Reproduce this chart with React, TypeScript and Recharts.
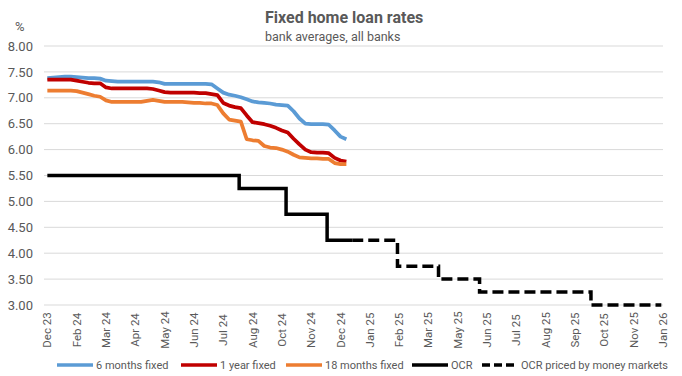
import React from 'react';
import { LineChart, Line, XAxis, YAxis, CartesianGrid, Legend, Customized } from 'recharts';

// Weekly observation dates for the bank average rates
const rateDates = [
  '2023-12-29', '2024-01-05', '2024-01-12', '2024-01-19', '2024-01-26', '2024-02-02', '2024-02-09', '2024-02-16',
  '2024-02-23', '2024-03-01', '2024-03-08', '2024-03-15', '2024-03-22', '2024-03-29', '2024-04-05', '2024-04-12',
  '2024-04-19', '2024-04-26', '2024-05-03', '2024-05-10', '2024-05-17', '2024-05-24', '2024-05-31', '2024-06-07',
  '2024-06-14', '2024-06-21', '2024-06-28', '2024-07-05', '2024-07-12', '2024-07-19', '2024-07-26', '2024-08-02',
  '2024-08-09', '2024-08-16', '2024-08-23', '2024-08-30', '2024-09-06', '2024-09-13', '2024-09-20', '2024-09-27',
  '2024-10-04', '2024-10-11', '2024-10-18', '2024-10-25', '2024-11-01', '2024-11-08', '2024-11-15', '2024-11-22',
  '2024-11-29', '2024-12-06', '2024-12-13', '2024-12-20',
];

const sixMonths = [
  7.38, 7.39, 7.40, 7.41, 7.41, 7.40, 7.39, 7.38, 7.38, 7.37, 7.33, 7.32, 7.31, 7.31, 7.31, 7.31,
  7.31, 7.31, 7.31, 7.30, 7.27, 7.27, 7.27, 7.27, 7.27, 7.27, 7.27, 7.27, 7.26, 7.18, 7.10, 7.06,
  7.04, 7.01, 6.97, 6.93, 6.91, 6.90, 6.89, 6.87, 6.86, 6.85, 6.74, 6.60, 6.50, 6.49, 6.49, 6.49,
  6.48, 6.37, 6.25, 6.20,
];

const oneYear = [
  7.35, 7.35, 7.35, 7.35, 7.35, 7.33, 7.31, 7.29, 7.28, 7.28, 7.20, 7.18, 7.18, 7.18, 7.18, 7.18,
  7.18, 7.18, 7.17, 7.14, 7.11, 7.10, 7.10, 7.10, 7.10, 7.10, 7.09, 7.09, 7.07, 7.05, 6.90, 6.85,
  6.82, 6.80, 6.66, 6.53, 6.51, 6.49, 6.46, 6.42, 6.37, 6.33, 6.21, 6.10, 6.00, 5.95, 5.94, 5.94,
  5.93, 5.84, 5.79, 5.77,
];

const eighteenMonths = [
  7.14, 7.14, 7.14, 7.14, 7.14, 7.13, 7.10, 7.07, 7.04, 7.02, 6.95, 6.92, 6.92, 6.92, 6.92, 6.92,
  6.92, 6.94, 6.96, 6.94, 6.92, 6.92, 6.92, 6.92, 6.91, 6.90, 6.90, 6.89, 6.89, 6.86, 6.70, 6.58,
  6.56, 6.54, 6.20, 6.18, 6.17, 6.07, 6.04, 6.03, 6.00, 5.96, 5.90, 5.85, 5.84, 5.83, 5.83, 5.82,
  5.82, 5.74, 5.72, 5.72,
];

// Official Cash Rate decisions
const ocrDates = ['2023-12-29', '2024-08-14', '2024-10-09', '2024-11-27', '2024-12-27'];
const ocrValues = [5.50, 5.25, 4.75, 4.25, 4.25];

// OCR path priced by money markets
const marketDates = ['2024-12-27', '2025-02-19', '2025-04-09', '2025-05-28', '2025-10-08', '2025-12-31'];
const marketValues = [4.25, 3.75, 3.50, 3.25, 3.00, 3.00];

// Axis ticks
const tickDates = [
  '2023-12-29', '2024-02-02', '2024-03-08', '2024-04-12', '2024-05-17', '2024-06-21', '2024-07-26', '2024-08-30',
  '2024-10-04', '2024-11-08', '2024-12-13', '2025-01-17', '2025-02-21', '2025-03-28', '2025-05-02', '2025-06-06',
  '2025-07-11', '2025-08-15', '2025-09-19', '2025-10-24', '2025-11-28', '2026-01-02',
];
const tickLabels = [
  'Dec 23', 'Feb 24', 'Mar 24', 'Apr 24', 'May 24', 'Jun 24', 'Jul 24', 'Aug 24', 'Oct 24', 'Nov 24', 'Dec 24',
  'Jan 25', 'Feb 25', 'Mar 25', 'May 25', 'Jun 25', 'Jul 25', 'Aug 25', 'Sep 25', 'Oct 25', 'Nov 25', 'Jan 26',
];
const yTicks = [3.0, 3.5, 4.0, 4.5, 5.0, 5.5, 6.0, 6.5, 7.0, 7.5, 8.0];

const DAY0 = Date.parse('2023-12-29');
const toDay = (d: string) => Math.round((Date.parse(d) - DAY0) / 86400000);

const mk = (dates: string[], vals: number[]) => dates.map((d, i) => ({ x: toDay(d), v: vals[i] }));

const s6 = mk(rateDates, sixMonths);
const s12 = mk(rateDates, oneYear);
const s18 = mk(rateDates, eighteenMonths);
const sOcr = mk(ocrDates, ocrValues);
const sMkt = mk(marketDates, marketValues);
const xTicks = tickDates.map(toDay);

const FONT = 'Roboto, "Noto Sans", sans-serif';
const TXT = '#595959';

const XTick = (props: any) => {
  const { x, payload } = props;
  const idx = xTicks.indexOf(payload.value);
  const label = idx >= 0 ? tickLabels[idx] : '';
  const cy = 330;
  return (
    <text
      x={x}
      y={cy}
      transform={`rotate(-90, ${x}, ${cy})`}
      textAnchor="middle"
      dominantBaseline="central"
      fill={TXT}
      fontSize={11.5}
      fontFamily={FONT}
    >
      {label}
    </text>
  );
};

const legendItems = [
  { name: '6 months fixed', color: '#5B9BD5', dash: '', x: 57 },
  { name: '1 year fixed', color: '#C00000', dash: '', x: 181 },
  { name: '18 months fixed', color: '#ED7D31', dash: '', x: 286 },
  { name: 'OCR', color: '#000000', dash: '', x: 412 },
  { name: 'OCR priced by money markets', color: '#000000', dash: '8 4', x: 482 },
];

const LegendContent = () => (
  <svg width={682} height={20} style={{ display: 'block' }}>
    {legendItems.map((it) => (
      <g key={it.name}>
        <line
          x1={it.x}
          x2={it.x + 36}
          y1={10}
          y2={10}
          stroke={it.color}
          strokeWidth={3.5}
          strokeDasharray={it.dash || undefined}
        />
        <text x={it.x + 39} y={10} dominantBaseline="central" fontSize={11} fill={TXT} fontFamily={FONT}>
          {it.name}
        </text>
      </g>
    ))}
  </svg>
);

const Titles = () => (
  <g fontFamily={FONT}>
    <text x={265} y={23} fontSize={16} fontWeight="bold" fill={TXT}>
      Fixed home loan rates
    </text>
    <text x={265} y={41} fontSize={12.5} fill={TXT}>
      bank averages, all banks
    </text>
    <text x={15} y={31} fontSize={13} fill={TXT}>
      %
    </text>
  </g>
);

export default function App() {
  return (
    <div style={{ position: 'fixed', left: 0, top: 0, width: 682, height: 376, background: '#fff' }}>
      <LineChart width={682} height={376} margin={{ top: 46, right: 19, left: 0, bottom: 0 }}>
        <CartesianGrid vertical={false} stroke="#D9D9D9" strokeWidth={1} />
        <XAxis
          type="number"
          dataKey="x"
          domain={[-4, 735]}
          ticks={xTicks}
          interval={0}
          tick={<XTick />}
          tickLine={false}
          axisLine={false}
          height={71}
          allowDataOverflow
        />
        <YAxis
          type="number"
          domain={[3, 8]}
          ticks={yTicks}
          interval={0}
          width={44}
          tickLine={false}
          axisLine={false}
          tickMargin={5}
          tickFormatter={(v: number) => v.toFixed(2)}
          tick={{ fill: TXT, fontSize: 13, fontFamily: FONT }}
        />
        <Line data={s6} dataKey="v" name="6 months fixed" stroke="#5B9BD5" strokeWidth={3.75} dot={false} isAnimationActive={false} strokeLinejoin="round" />
        <Line data={s12} dataKey="v" name="1 year fixed" stroke="#C00000" strokeWidth={3.75} dot={false} isAnimationActive={false} strokeLinejoin="round" />
        <Line data={s18} dataKey="v" name="18 months fixed" stroke="#ED7D31" strokeWidth={3.75} dot={false} isAnimationActive={false} strokeLinejoin="round" />
        <Line data={sOcr} dataKey="v" name="OCR" type="stepAfter" stroke="#000000" strokeWidth={3.5} dot={false} isAnimationActive={false} />
        <Line data={sMkt} dataKey="v" name="OCR priced by money markets" type="stepAfter" stroke="#000000" strokeWidth={3.5} strokeDasharray="11 5" dot={false} isAnimationActive={false} />
        <Legend
          layout="horizontal"
          verticalAlign="middle"
          align="center"
          content={<LegendContent />}
          wrapperStyle={{ top: 355, left: 0, width: 682, height: 20 }}
        />
        <Customized component={<Titles />} />
      </LineChart>
    </div>
  );
}
